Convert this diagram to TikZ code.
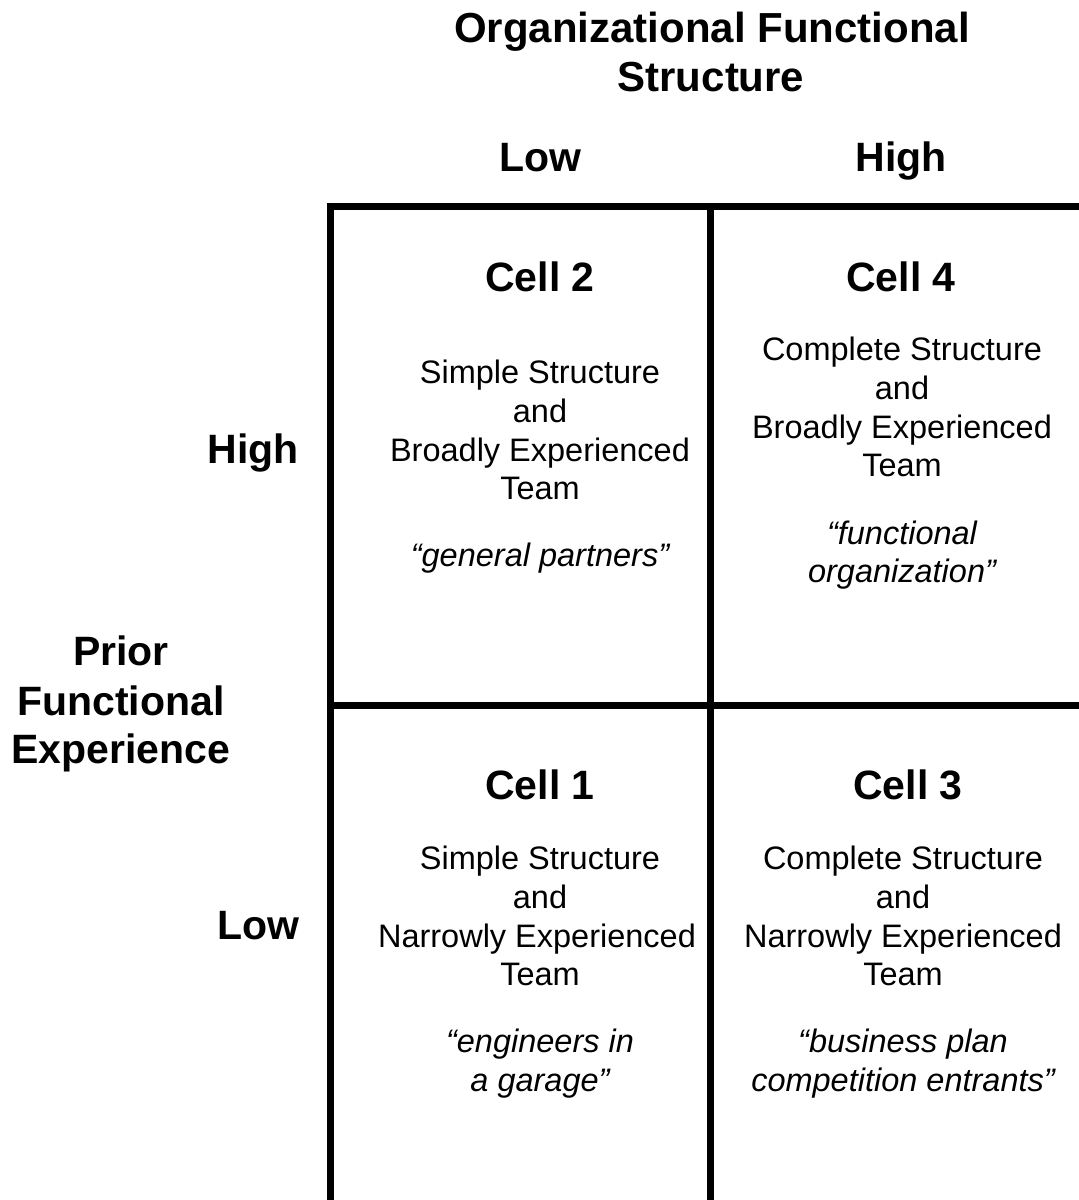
\documentclass[tikz,border=0pt]{standalone}
\usepackage{fontspec}
\setmainfont{Liberation Sans}
\begin{document}
\begin{tikzpicture}[x=1pt,y=-1pt,
  head/.style={font=\fontsize{41}{48}\selectfont\bfseries, inner sep=0pt, anchor=base},
  title/.style={font=\fontsize{42}{48}\selectfont\bfseries, inner sep=0pt, anchor=base},
  body/.style={font=\fontsize{32.5}{38.7}\selectfont, inner sep=0pt, anchor=base},
  quote/.style={font=\fontsize{32.5}{38.7}\selectfont\itshape, inner sep=0pt, anchor=base},
  gridline/.style={line width=7pt, line cap=butt}]
\useasboundingbox (0,0) rectangle (1079,1200);
% grid
\coordinate (tl) at (327,206);
\coordinate (tr) at (1079,206);
\coordinate (lt) at (330,206);
\coordinate (lb) at (330,1200);
\coordinate (mt) at (710,206);
\coordinate (mb) at (710,1200);
\coordinate (hl) at (330,705);
\coordinate (hr) at (1079,705);
\draw[gridline] (tl) -- (tr);
\draw[gridline] (lt) -- (lb);
\draw[gridline] (mt) -- (mb);
\draw[gridline] (hl) -- (hr);
% title
\node[title] (t1) at (712,42) {Organizational Functional};
\node[title] (t2) at (711,91) {Structure};
\node[head] (cLow) at (540,171) {Low};
\node[head] (cHigh) at (901,171) {High};
% row labels
\node[head] (rHigh) at (253,463) {High};
\node[head] (rLow) at (258,939) {Low};
\node[head] (p1) at (121,665) {Prior};
\node[head] (p2) at (121,715) {Functional};
\node[head] (p3) at (121,763) {Experience};
% Cell 2
\node[head] (c2) at (540,291) {Cell 2};
\node[body] (c2a) at (540,383.5) {Simple Structure};
\node[body] (c2b) at (540,422.5) {and};
\node[body] (c2c) at (540,461.5) {Broadly Experienced};
\node[body] (c2d) at (540,499.5) {Team};
\node[quote] (c2q) at (540,566) {“general partners”};
% Cell 4
\node[head] (c4) at (901,291) {Cell 4};
\node[body] (c4a) at (902,360.5) {Complete Structure};
\node[body] (c4b) at (902,399.5) {and};
\node[body] (c4c) at (902,438.5) {Broadly Experienced};
\node[body] (c4d) at (902,476.5) {Team};
\node[quote] (c4q) at (902,544.5) {“functional};
\node[quote] (c4r) at (902,582.5) {organization”};
% Cell 1
\node[head] (c1) at (540,799) {Cell 1};
\node[body] (c1a) at (540,869.5) {Simple Structure};
\node[body] (c1b) at (540,908.5) {and};
\node[body] (c1c) at (537,947.5) {Narrowly Experienced};
\node[body] (c1d) at (540,985.5) {Team};
\node[quote] (c1q) at (540,1052.5) {“engineers in};
\node[quote] (c1r) at (540,1091.5) {a garage”};
% Cell 3
\node[head] (c3) at (908,799) {Cell 3};
\node[body] (c3a) at (903,869.5) {Complete Structure};
\node[body] (c3b) at (903,908.5) {and};
\node[body] (c3c) at (903,947.5) {Narrowly Experienced};
\node[body] (c3d) at (903,985.5) {Team};
\node[quote] (c3q) at (903,1052.5) {“business plan};
\node[quote] (c3r) at (903,1091.5) {competition entrants”};
\end{tikzpicture}
\end{document}
